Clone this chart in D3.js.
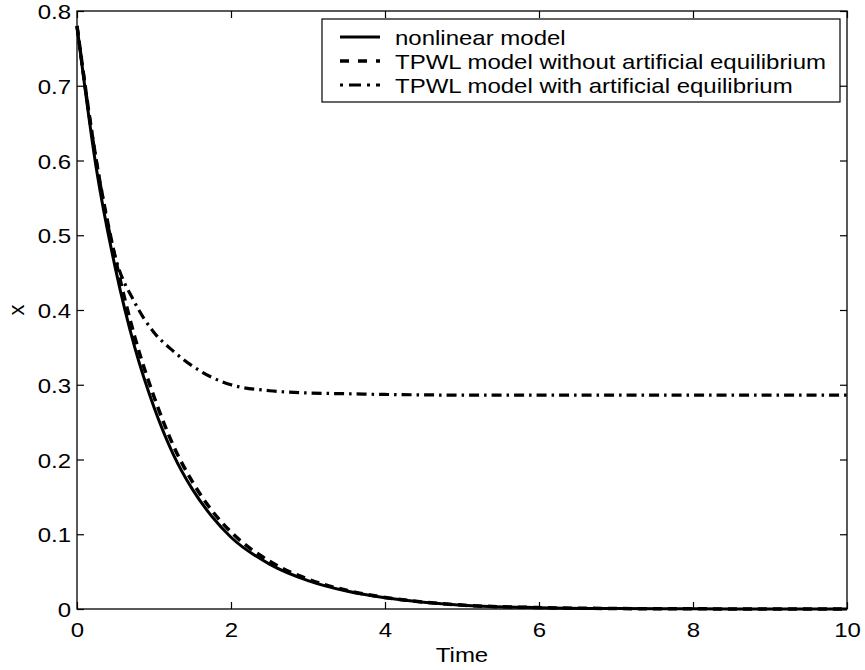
<!DOCTYPE html>
<html><head><meta charset="utf-8">
<script src="https://cdn.jsdelivr.net/npm/d3@7"></script>
<style>body{margin:0;background:#fff}svg{display:block}text{font-family:"Liberation Sans",Arial,sans-serif;fill:#000}</style>
</head><body><svg id="c" width="865" height="670"></svg>
<script>
const time = [0,0.25,0.5,0.75,1,1.25,1.5,1.75,2,2.5,3,3.5,4,4.5,5,6,7,8,9,10];
const nonlinear = [0.78,0.59,0.455,0.35,0.27,0.207,0.16,0.124,0.096,0.06,0.038,0.024,0.015,0.009,0.005,0.0018,0.0006,0.0002,0.0001,0];
const tpwlNoEq = [0.78,0.60,0.468,0.364,0.284,0.219,0.17,0.132,0.103,0.064,0.040,0.025,0.0155,0.0093,0.0052,0.0019,0.0006,0.0002,0.0001,0];
const tpwlEq = [0.78,0.60,0.47,0.41,0.37,0.345,0.325,0.31,0.30,0.292,0.289,0.288,0.287,0.2865,0.286,0.286,0.286,0.286,0.286,0.286];
const xTicks = [0,2,4,6,8,10];
const yTicks = [0,0.1,0.2,0.3,0.4,0.5,0.6,0.7,0.8];
const legendLabels = ["nonlinear model","TPWL model without artificial equilibrium","TPWL model with artificial equilibrium"];

const L=77,R=847,T=11,B=609;
const svg=d3.select("#c");
const x=d3.scaleLinear().domain([0,10]).range([L,R]);
const y=d3.scaleLinear().domain([0,0.8]).range([B,T]);
const fs=20, sx=1.2;
const tl=7;
const axB=d3.axisBottom(x).tickValues(xTicks).tickSizeInner(-tl).tickSizeOuter(0).tickPadding(14).tickFormat(d3.format("d"));
const axT=d3.axisTop(x).tickValues(xTicks).tickSizeInner(-tl).tickSizeOuter(0).tickFormat("");
const axL=d3.axisLeft(y).tickValues(yTicks).tickSizeInner(-tl).tickSizeOuter(0).tickPadding(5).tickFormat(d=>d===0?"0":d3.format(".1f")(d));
const axR=d3.axisRight(y).tickValues(yTicks).tickSizeInner(-tl).tickSizeOuter(0).tickFormat("");
function style(sel){sel.selectAll(".domain").remove();sel.selectAll("line").attr("stroke","#000").attr("stroke-width",1.2);
 sel.selectAll("text").attr("font-size",fs).attr("font-family","Liberation Sans, Arial, sans-serif").attr("fill","#000").attr("transform",`scale(${sx},1)`);}
svg.append("g").attr("transform",`translate(0,${B})`).call(axB).call(style);
svg.append("g").attr("transform",`translate(0,${T})`).call(axT).call(style);
const gl=svg.append("g").attr("transform",`translate(${L},0)`).call(axL).call(style);
gl.selectAll("text").attr("dy","0.38em");
svg.append("g").attr("transform",`translate(${R},0)`).call(axR).call(style);
svg.append("rect").attr("x",L).attr("y",T).attr("width",R-L).attr("height",B-T).attr("fill","none").attr("stroke","#000").attr("stroke-width",1.3);

const line=d3.line().x((d,i)=>x(time[i])).y(d=>y(d)).curve(d3.curveMonotoneX);
const styles=[{w:3,dash:null},{w:3.5,dash:"9,6"},{w:3.2,dash:"10,5,2.5,5"}];
const series=[nonlinear,tpwlNoEq,tpwlEq];
series.forEach((s,i)=>{svg.append("path").datum(s).attr("d",line).attr("fill","none").attr("stroke","#000").attr("stroke-width",styles[i].w).attr("stroke-dasharray",styles[i].dash);});

svg.append("text").attr("transform",`translate(${(L+R)/2},662) scale(${sx},1)`).attr("text-anchor","middle").attr("font-size",fs).text("Time");
svg.append("text").attr("transform",`translate(24,${(T+B)/2}) rotate(-90)`).attr("text-anchor","middle").attr("font-size",fs*1.1).text("x");

const lx=322, ly=19, lw=518, lh=83;
const lg=svg.append("g");
lg.append("rect").attr("x",lx).attr("y",ly).attr("width",lw).attr("height",lh).attr("fill","#fff").attr("stroke","#000").attr("stroke-width",1.2);
legendLabels.forEach((t,i)=>{const yy=ly+18+i*24;
 lg.append("line").attr("x1",lx+18).attr("x2",lx+58).attr("y1",yy).attr("y2",yy).attr("stroke","#000").attr("stroke-width",styles[i].w).attr("stroke-dasharray",i===1?"9,9":(i===2?"3,6,12,6":null));
 lg.append("text").attr("transform",`translate(${lx+73},${yy+7.5}) scale(${sx},1)`).attr("font-size",fs).text(t);});
</script></body></html>
